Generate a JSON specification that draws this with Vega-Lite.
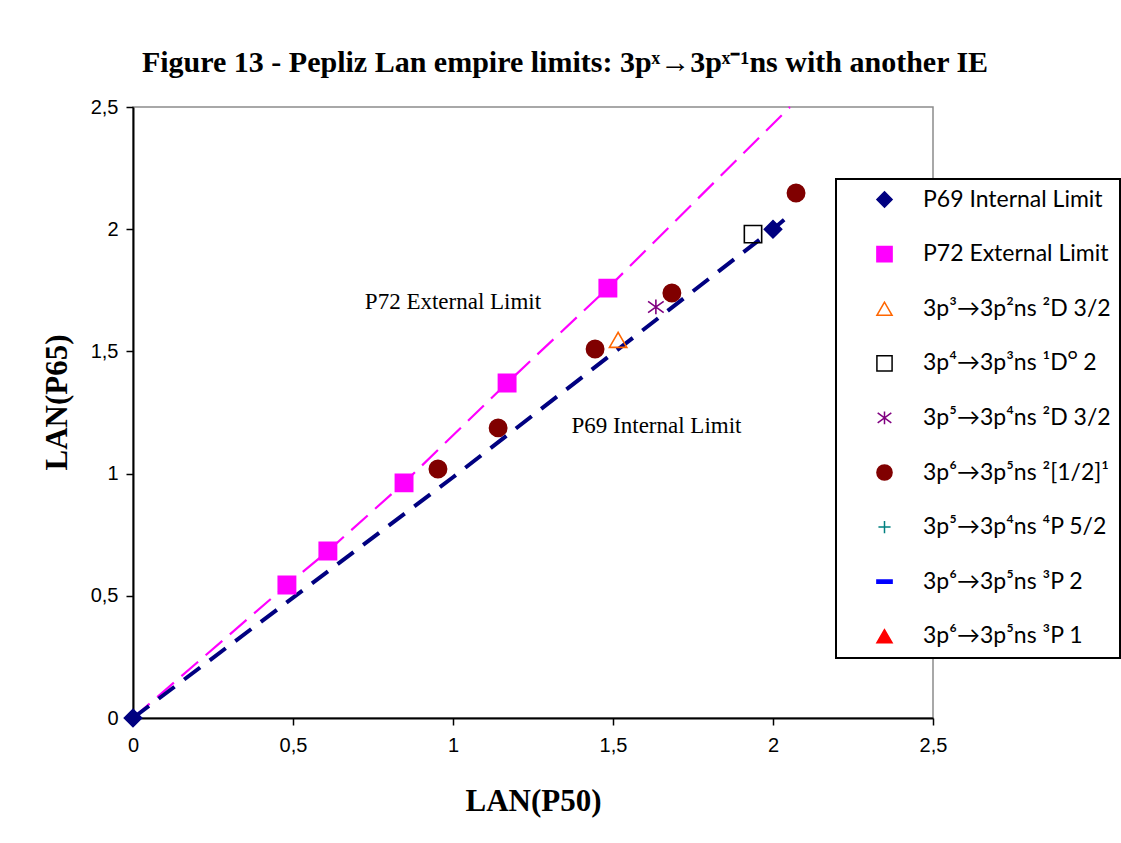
{
  "$schema": "https://vega.github.io/schema/vega-lite/v6.json",
  "width": 800,
  "height": 611,
  "autosize": {"type": "none"},
  "padding": {"left": 133, "top": 107, "right": 188, "bottom": 125},
  "background": "white",
  "title": {
    "text": "Figure 13 - Pepliz Lan empire limits: 3pˣ→3pˣ⁻¹ns with another IE",
    "font": "Liberation Serif",
    "fontSize": 30,
    "fontWeight": "bold",
    "color": "black",
    "anchor": "middle",
    "frame": "group",
    "dx": 32,
    "baseline": "alphabetic",
    "offset": -5
  },
  "config": {
    "view": {"stroke": "#8c8c8c", "strokeWidth": 1.5},
    "axis": {
      "grid": false,
      "domainColor": "black",
      "domainWidth": 2,
      "tickColor": "black",
      "tickWidth": 1.5,
      "tickSize": 7,
      "labelFont": "Liberation Sans",
      "labelFontSize": 20,
      "labelColor": "black",
      "labelFlush": false,
      "titleFont": "Liberation Serif",
      "titleFontSize": 31,
      "titleFontWeight": "bold",
      "titleColor": "black"
    },
    "legend": {
      "orient": "none",
      "legendX": 703,
      "legendY": 72,
      "strokeColor": "black",
      "strokeWidth": 2,
      "fillColor": "white",
      "padding": 9,
      "labelFont": "Lato",
      "labelFontSize": 23,
      "labelColor": "black",
      "labelLimit": 0,
      "rowPadding": 30.6,
      "symbolOffset": 28,
      "labelOffset": 27,
      "symbolSize": 230,
      "symbolStrokeWidth": 1.5
    }
  },
  "datasets": {
    "pts": [
      {"series": "P69 Internal Limit", "x": 0, "y": 0},
      {"series": "P69 Internal Limit", "x": 2.0, "y": 2.0},
      {"series": "P72 External Limit", "x": 0.481, "y": 0.544},
      {"series": "P72 External Limit", "x": 0.609, "y": 0.683},
      {"series": "P72 External Limit", "x": 0.847, "y": 0.962},
      {"series": "P72 External Limit", "x": 1.169, "y": 1.371},
      {"series": "P72 External Limit", "x": 1.484, "y": 1.759},
      {"series": "3p³→3p²ns ²D 3/2", "x": 1.516, "y": 1.547},
      {"series": "3p⁴→3p³ns ¹Dᴼ 2", "x": 1.9375, "y": 1.98},
      {"series": "3p⁵→3p⁴ns ²D 3/2", "x": 1.634, "y": 1.682},
      {"series": "3p⁶→3p⁵ns ²[1/2]¹", "x": 0.953, "y": 1.019},
      {"series": "3p⁶→3p⁵ns ²[1/2]¹", "x": 1.141, "y": 1.187},
      {"series": "3p⁶→3p⁵ns ²[1/2]¹", "x": 1.444, "y": 1.51},
      {"series": "3p⁶→3p⁵ns ²[1/2]¹", "x": 1.684, "y": 1.739},
      {"series": "3p⁶→3p⁵ns ²[1/2]¹", "x": 2.072, "y": 2.148}
    ],
    "lines": [
      {"line": "P69", "x": 0, "y": 0},
      {"line": "P69", "x": 1.0, "y": 0.985},
      {"line": "P69", "x": 2.0, "y": 2.0},
      {"line": "P69", "x": 2.0625, "y": 2.07},
      {"line": "P72", "x": 0, "y": 0},
      {"line": "P72", "x": 0.481, "y": 0.544},
      {"line": "P72", "x": 0.609, "y": 0.683},
      {"line": "P72", "x": 0.847, "y": 0.962},
      {"line": "P72", "x": 1.169, "y": 1.371},
      {"line": "P72", "x": 1.484, "y": 1.759},
      {"line": "P72", "x": 2.053, "y": 2.5}
    ],
    "notes": [
      {"label": "P72 External Limit", "x": 1.0, "y": 1.702},
      {"label": "P69 Internal Limit", "x": 1.636, "y": 1.195}
    ]
  },
  "encoding": {
    "x": {
      "field": "x", "type": "quantitative",
      "scale": {"domain": [0, 2.5], "nice": false},
      "axis": {"values": [0, 0.5, 1, 1.5, 2, 2.5], "labelExpr": "replace(toString(datum.value), '.', ',')", "title": "LAN(P50)", "labelPadding": 10, "titleY": 92, "titleBaseline": "alphabetic"}
    },
    "y": {
      "field": "y", "type": "quantitative",
      "scale": {"domain": [0, 2.5], "nice": false},
      "axis": {"values": [0, 0.5, 1, 1.5, 2, 2.5], "labelExpr": "replace(toString(datum.value), '.', ',')", "title": "LAN(P65)", "labelPadding": 8, "titleX": -67, "titleY": 295, "titleBaseline": "alphabetic"}
    }
  },
  "layer": [
    {
      "data": {"name": "lines"},
      "transform": [{"filter": "datum.line === 'P72'"}],
      "mark": {"type": "line", "color": "#FF00FF", "strokeWidth": 2.2, "strokeDash": [22, 10]},
      "encoding": {}
    },
    {
      "data": {"name": "lines"},
      "transform": [{"filter": "datum.line === 'P69'"}],
      "mark": {"type": "line", "color": "#000080", "strokeWidth": 4, "strokeDash": [20, 12]},
      "encoding": {}
    },
    {
      "data": {"name": "pts"},
      "mark": {"type": "point", "size": 300, "opacity": 1, "strokeWidth": 1.6},
      "encoding": {
        "shape": {
          "field": "series", "type": "nominal", "title": null,
          "scale": {
            "domain": ["P69 Internal Limit", "P72 External Limit", "3p³→3p²ns ²D 3/2", "3p⁴→3p³ns ¹Dᴼ 2", "3p⁵→3p⁴ns ²D 3/2", "3p⁶→3p⁵ns ²[1/2]¹", "3p⁵→3p⁴ns ⁴P 5/2", "3p⁶→3p⁵ns ³P 2", "3p⁶→3p⁵ns ³P 1"],
            "range": ["diamond", "square", "triangle-up", "square", "M-0.9,-0.65L0.9,0.65M-0.9,0.65L0.9,-0.65M0,-0.85V0.85", "circle", "M-0.8,0H0.8M0,-0.8V0.8", "M-1,-0.22H1V0.22H-1Z", "triangle-up"]
          }
        },
        "fill": {
          "field": "series", "type": "nominal", "title": null,
          "scale": {
            "domain": ["P69 Internal Limit", "P72 External Limit", "3p³→3p²ns ²D 3/2", "3p⁴→3p³ns ¹Dᴼ 2", "3p⁵→3p⁴ns ²D 3/2", "3p⁶→3p⁵ns ²[1/2]¹", "3p⁵→3p⁴ns ⁴P 5/2", "3p⁶→3p⁵ns ³P 2", "3p⁶→3p⁵ns ³P 1"],
            "range": ["#000080", "#FF00FF", "transparent", "transparent", "transparent", "#800000", "transparent", "#0000FF", "#FF0000"]
          }
        },
        "stroke": {
          "field": "series", "type": "nominal", "title": null,
          "scale": {
            "domain": ["P69 Internal Limit", "P72 External Limit", "3p³→3p²ns ²D 3/2", "3p⁴→3p³ns ¹Dᴼ 2", "3p⁵→3p⁴ns ²D 3/2", "3p⁶→3p⁵ns ²[1/2]¹", "3p⁵→3p⁴ns ⁴P 5/2", "3p⁶→3p⁵ns ³P 2", "3p⁶→3p⁵ns ³P 1"],
            "range": ["#000080", "#FF00FF", "#FF6600", "#000000", "#800080", "#800000", "#008080", "#0000FF", "#FF0000"]
          }
        }
      }
    },
    {
      "data": {"name": "notes"},
      "mark": {"type": "text", "font": "Liberation Serif", "fontSize": 23, "color": "black", "align": "center", "baseline": "middle"},
      "encoding": {"text": {"field": "label"}}
    }
  ]
}
